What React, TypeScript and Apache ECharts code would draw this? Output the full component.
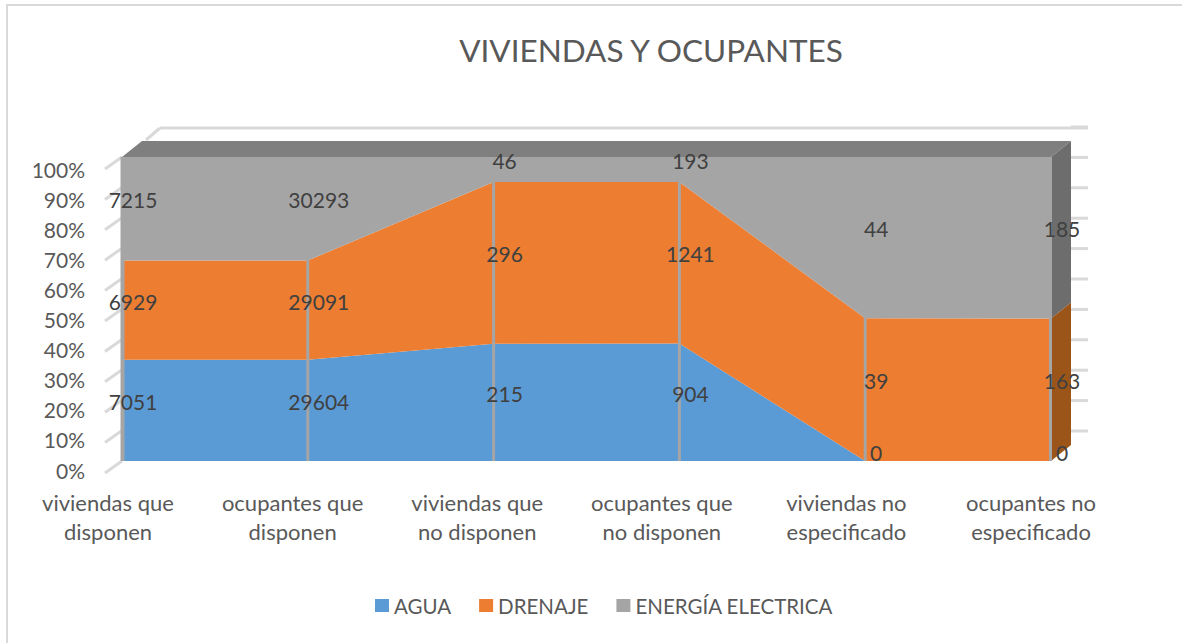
import React, { useEffect, useRef } from "react";
import * as echarts from "echarts";

const categories = [
  "viviendas que\ndisponen",
  "ocupantes que\ndisponen",
  "viviendas que\nno disponen",
  "ocupantes que\nno disponen",
  "viviendas no\nespecificado",
  "ocupantes no\nespecificado",
];
const agua = [7051, 29604, 215, 904, 0, 0];
const drenaje = [6929, 29091, 296, 1241, 39, 163];
const energia = [7215, 30293, 46, 193, 44, 185];
const seriesNames = ["AGUA", "DRENAJE", "ENERGÍA ELECTRICA"];
const colors = ["#5b9bd5", "#ed7d31", "#a5a5a5"];
const yTicks = [0, 10, 20, 30, 40, 50, 60, 70, 80, 90, 100];

const FONT = "Lato";
const DX = 20;
const DY = -16;

const share = (vals: number[], i: number) =>
  (vals[i] / (agua[i] + drenaje[i] + energia[i])) * 100;
const pctAgua = agua.map((_, i) => share(agua, i));
const pctDrenaje = drenaje.map((_, i) => share(drenaje, i));
const pctEnergia = energia.map((_, i) => share(energia, i));

const labelRows: number[][] = [];
categories.forEach((_, i) => {
  const a = pctAgua[i];
  const d = pctDrenaje[i];
  const e = pctEnergia[i];
  labelRows.push([i, a / 2, agua[i]]);
  labelRows.push([i, a + d / 2, drenaje[i]]);
  labelRows.push([i, a + d + e / 2, energia[i]]);
});

const gridLine = "#d9d9d9";

export default function App() {
  const ref = useRef<HTMLDivElement>(null);
  useEffect(() => {
    const chart = echarts.init(ref.current!, undefined, { renderer: "svg" });
    const last = categories.length - 1;
    chart.setOption({
      animation: false,
      backgroundColor: "#ffffff",
      title: {
        text: "VIVIENDAS Y OCUPANTES",
        left: 646,
        top: 29,
        textAlign: "center",
        textStyle: { fontFamily: FONT, fontSize: 31.5, fontWeight: "normal", color: "#595959" },
      },
      legend: {
        data: seriesNames,
        left: 370,
        top: 590,
        icon: "rect",
        itemWidth: 14,
        itemHeight: 13,
        itemGap: 28,
        textStyle: { fontFamily: FONT, fontSize: 20.5, color: "#595959" },
      },
      grid: [
        { left: 122, width: 929, top: 157, height: 304 },
        { left: 108, width: 923, top: 169, height: 301 },
      ],
      xAxis: [
        { type: "category", gridIndex: 0, data: categories, boundaryGap: false, show: false },
        {
          type: "category",
          gridIndex: 1,
          data: categories,
          boundaryGap: false,
          axisLine: { show: false },
          axisTick: { show: false },
          axisLabel: {
            interval: 0,
            margin: 18,
            fontFamily: FONT,
            fontSize: 22,
            lineHeight: 29,
            color: "#595959",
          },
        },
      ],
      yAxis: [
        { type: "value", gridIndex: 0, min: 0, max: 100, interval: 10, show: false },
        {
          type: "value",
          gridIndex: 1,
          min: 0,
          max: 100,
          interval: 10,
          splitLine: { show: false },
          axisLine: { show: false },
          axisTick: { show: false },
          axisLabel: {
            margin: 23,
            fontFamily: FONT,
            fontSize: 21,
            color: "#595959",
            formatter: "{value}%",
          },
        },
      ],
      series: [
        {
          type: "custom",
          name: "paredes",
          z: 1,
          silent: true,
          data: yTicks.map((t) => [0, t]),
          renderItem: (_p: any, api: any) => {
            const v = api.value(1);
            const l = api.coord([0, v]);
            const r = api.coord([last, v]);
            const style = { stroke: gridLine, lineWidth: 3, fill: "none" };
            const children: any[] = [
              { type: "line", shape: { x1: l[0] - 17, y1: l[1] + 12, x2: l[0], y2: l[1] }, style },
              { type: "line", shape: { x1: r[0] + DX, y1: r[1] + DY * 2 + 2, x2: r[0] + 37, y2: r[1] + DY * 2 + 2 }, style },
            ];
            if (v === 100) {
              children.push({ type: "line", shape: { x1: l[0] + 24, y1: l[1] - 17, x2: l[0] + 38, y2: l[1] - 29 }, style });
              children.push({ type: "line", shape: { x1: l[0] + 38, y1: l[1] - 29, x2: r[0] + 37, y2: r[1] - 29 }, style });
            }
            return { type: "group", children };
          },
        },
        {
          type: "custom",
          name: "caras",
          z: 2,
          silent: true,
          data: [[last, pctAgua[last], pctDrenaje[last]]],
          renderItem: (_p: any, api: any) => {
            const i = api.value(0);
            const a = api.value(1);
            const d = api.value(2);
            const base = api.coord([i, a]);
            const mid = api.coord([i, a + d]);
            const top = api.coord([i, 100]);
            const left = api.coord([0, 100]);
            const face = (p: number[], q: number[], fill: string) => ({
              type: "polygon",
              shape: { points: [p, q, [q[0] + DX, q[1] + DY], [p[0] + DX, p[1] + DY]] },
              style: { fill },
            });
            return {
              type: "group",
              children: [
                face(left, top, "#7f7f7f"),
                face(top, mid, "#6d6d6d"),
                face(mid, base, "#9c5518"),
              ],
            };
          },
        },
        ...[pctAgua, pctDrenaje, pctEnergia].map((d, idx) => ({
          type: "line",
          name: seriesNames[idx],
          stack: "total",
          z: 3,
          data: d,
          symbol: "none",
          showSymbol: false,
          silent: true,
          itemStyle: { color: colors[idx] },
          lineStyle: { width: 0, color: colors[idx] },
          areaStyle: { color: colors[idx], opacity: 1 },
        })),
        {
          type: "custom",
          name: "divisiones",
          z: 4,
          silent: true,
          data: categories.map((_, i) => [i]),
          renderItem: (_p: any, api: any) => {
            const i = api.value(0);
            const t = api.coord([i, 100]);
            const b = api.coord([i, 0]);
            const x = i === 0 ? t[0] + 0.5 : i === last ? t[0] - 0.5 : t[0];
            return {
              type: "line",
              shape: { x1: x, y1: t[1], x2: x, y2: b[1] },
              style: { stroke: colors[2], lineWidth: i === 0 ? 4 : 3 },
            };
          },
        },
        {
          type: "custom",
          name: "etiquetas",
          z: 5,
          silent: true,
          data: labelRows,
          renderItem: (_p: any, api: any) => {
            const c = api.coord([api.value(0), api.value(1)]);
            return {
              type: "text",
              style: {
                text: String(api.value(2)),
                x: c[0] + 11,
                y: c[1] - 9,
                align: "center",
                verticalAlign: "middle",
                fontFamily: FONT,
                fontSize: 21,
                fill: "#404040",
              },
            };
          },
        },
      ],
      graphic: [
        {
          type: "polyline",
          silent: true,
          z: -1,
          shape: { points: [[7, 643], [7, 5], [1182, 5]] },
          style: { fill: "none", stroke: "#d9d9d9", lineWidth: 2 },
        },
      ],
    });
    return () => chart.dispose();
  }, []);
  return <div ref={ref} style={{ width: 1182, height: 643, position: "fixed", left: 0, top: 0 }} />;
}
